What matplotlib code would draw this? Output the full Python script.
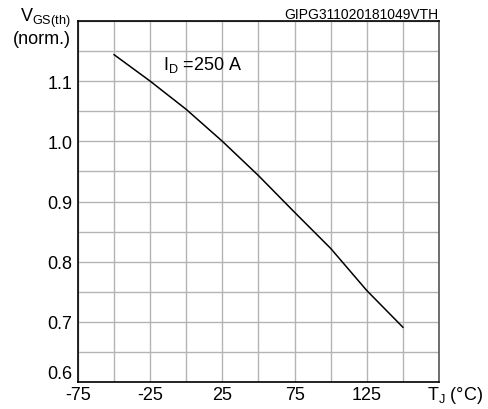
import matplotlib
matplotlib.use("Agg")
import matplotlib.pyplot as plt
import numpy as np

plt.rcParams['font.family'] = ['Liberation Sans', 'DejaVu Sans']
plt.rcParams['mathtext.fontset'] = 'custom'
plt.rcParams['mathtext.rm'] = 'Liberation Sans'
plt.rcParams['mathtext.it'] = 'Liberation Sans:italic'

# normalized gate threshold voltage vs junction temperature
tj = [-50, -25, 0, 25, 50, 75, 100, 125, 150]
vgs_norm = [1.144, 1.1, 1.053, 1.0, 0.943, 0.882, 0.822, 0.752, 0.691]

xticks = [-75, -25, 25, 75, 125]
yticks = [0.6, 0.7, 0.8, 0.9, 1.0, 1.1]

fig = plt.figure(figsize=(4.89, 4.10), dpi=100)
ax = fig.add_axes([78 / 489, 27 / 410, 361 / 489, 361 / 410])

ax.plot(tj, vgs_norm, color='black', lw=1.1)

ax.set_xlim(-75, 175)
ax.set_ylim(0.6, 1.2)
ax.set_xticks(np.arange(-75, 176, 25), minor=True)
ax.set_yticks(np.arange(0.6, 1.21, 0.05), minor=True)
ax.set_xticks(xticks)
ax.set_yticks(yticks)
ax.set_xticklabels([str(t) for t in xticks])
ax.set_yticklabels(['%.1f' % v for v in yticks])
ax.grid(True, which='both', color='#b4b4b4', lw=1.0)
ax.tick_params(which='both', length=0, labelsize=13, pad=4)
ax.tick_params(axis='x', pad=3)
# lowest y label sits just above the x axis
ax.get_yticklabels()[0].set_va('bottom')
for s in ax.spines.values():
    s.set_color('black')
    s.set_linewidth(1.2)
ax.spines['right'].set_color('#555555')

fig.text(427 / 489, 1 - 396 / 410, r'$\mathregular{T_J}$ (°C)', fontsize=13,
         ha='left', va='center')
fig.text(71 / 489, 1 - 18 / 410, r'$\mathregular{V_{GS(th)}}$', fontsize=13,
         ha='right', va='center')
fig.text(71 / 489, 1 - 40 / 410, '(norm.)', fontsize=13, ha='right', va='center')
fig.text(438 / 489, 1 - 15 / 410, 'GIPG311020181049VTH', fontsize=10,
         ha='right', va='center')
ax.text(-16, 1.128, r'$\mathregular{I_D}$ =250 A', fontsize=13, ha='left', va='center')

fig.savefig('out.png', dpi=100)
